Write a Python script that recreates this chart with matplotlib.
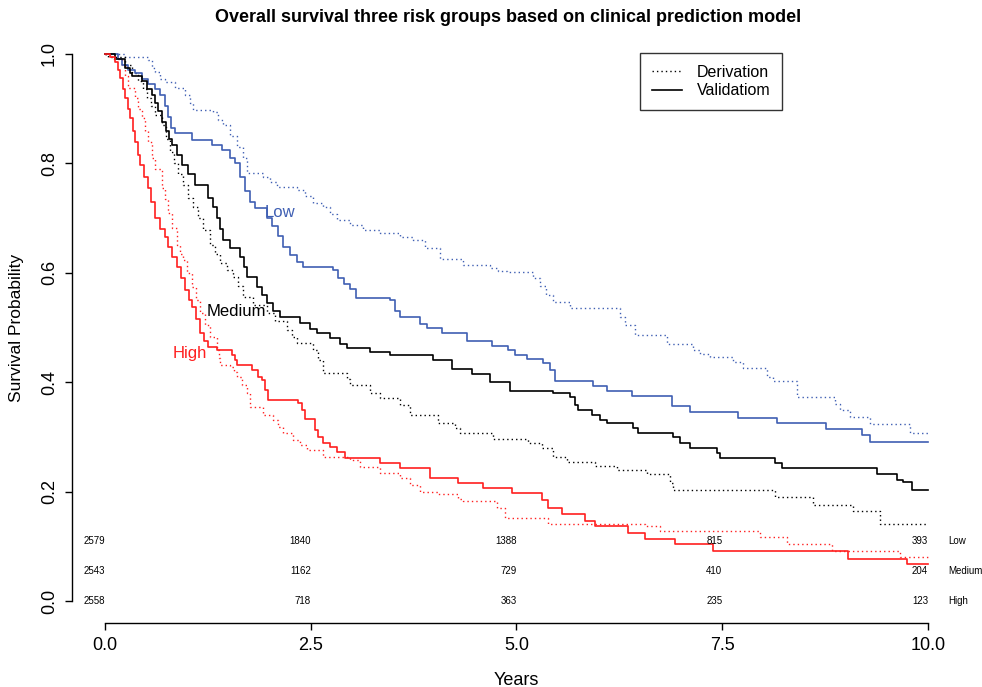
import matplotlib
matplotlib.use("Agg")
import matplotlib.pyplot as plt
from matplotlib.lines import Line2D

plt.rcParams["font.family"] = ["Liberation Sans", "DejaVu Sans"]

# Kaplan-Meier curves: (step time in years, survival after step)
low_der_t = [0.24, 0.52, 0.57, 0.61, 0.67, 0.73, 0.85, 0.97, 1.03, 1.07, 1.31, 1.37, 1.43, 1.52,
             1.60, 1.68, 1.73, 1.92, 2.00, 2.09, 2.33, 2.43, 2.53, 2.65, 2.73, 2.82, 2.98, 3.13,
             3.34, 3.58, 3.74, 3.89, 4.07, 4.35, 4.68, 4.78, 4.89, 5.20, 5.29, 5.36, 5.44, 5.65,
             6.26, 6.32, 6.44, 6.83, 7.14, 7.23, 7.35, 7.63, 7.75, 8.04, 8.12, 8.41, 8.87, 8.93,
             9.05, 9.30, 9.78]
low_der_s = [0.995, 0.989, 0.975, 0.967, 0.955, 0.949, 0.938, 0.925, 0.910, 0.898, 0.894, 0.880,
             0.870, 0.850, 0.830, 0.810, 0.782, 0.775, 0.766, 0.757, 0.751, 0.740, 0.728, 0.720,
             0.708, 0.697, 0.688, 0.678, 0.673, 0.666, 0.660, 0.645, 0.625, 0.614, 0.609, 0.604,
             0.601, 0.590, 0.575, 0.560, 0.547, 0.536, 0.520, 0.505, 0.486, 0.470, 0.459, 0.452,
             0.446, 0.437, 0.426, 0.410, 0.402, 0.373, 0.360, 0.349, 0.336, 0.324, 0.307]

low_val_t = [0.16, 0.21, 0.28, 0.36, 0.45, 0.52, 0.61, 0.67, 0.73, 0.77, 0.80, 0.85, 1.06, 1.30,
             1.42, 1.52, 1.58, 1.64, 1.70, 1.76, 1.82, 1.97, 2.03, 2.10, 2.16, 2.25, 2.33, 2.41,
             2.77, 2.83, 2.90, 2.98, 3.05, 3.46, 3.52, 3.58, 3.83, 3.91, 4.09, 4.40, 4.70, 4.90,
             4.98, 5.13, 5.32, 5.41, 5.47, 5.93, 6.10, 6.40, 6.89, 7.11, 7.69, 8.17, 8.76, 9.20,
             9.30]
low_val_s = [0.990, 0.980, 0.970, 0.965, 0.955, 0.945, 0.935, 0.925, 0.905, 0.885, 0.865, 0.855,
             0.843, 0.834, 0.825, 0.810, 0.800, 0.775, 0.750, 0.730, 0.718, 0.700, 0.685, 0.668,
             0.647, 0.633, 0.620, 0.610, 0.605, 0.590, 0.580, 0.570, 0.554, 0.550, 0.530, 0.519,
             0.507, 0.499, 0.490, 0.475, 0.466, 0.459, 0.450, 0.442, 0.435, 0.422, 0.403, 0.393,
             0.384, 0.375, 0.356, 0.345, 0.335, 0.325, 0.314, 0.303, 0.291]

med_der_t = [0.04, 0.24, 0.33, 0.40, 0.46, 0.51, 0.56, 0.61, 0.69, 0.74, 0.79, 0.84, 0.89, 0.95,
             1.01, 1.07, 1.13, 1.19, 1.28, 1.34, 1.40, 1.48, 1.56, 1.62, 1.68, 1.80, 1.97, 2.07,
             2.21, 2.27, 2.33, 2.53, 2.59, 2.65, 2.94, 2.98, 3.22, 3.34, 3.58, 3.71, 4.05, 4.25,
             4.31, 4.71, 5.14, 5.31, 5.44, 5.61, 5.95, 6.22, 6.59, 6.87, 6.90, 8.14, 8.60, 9.09,
             9.42]
med_der_s = [0.995, 0.980, 0.965, 0.950, 0.935, 0.920, 0.905, 0.888, 0.870, 0.845, 0.820, 0.800,
             0.780, 0.760, 0.737, 0.720, 0.700, 0.678, 0.650, 0.635, 0.618, 0.605, 0.592, 0.575,
             0.556, 0.541, 0.527, 0.512, 0.495, 0.483, 0.472, 0.459, 0.440, 0.417, 0.405, 0.395,
             0.381, 0.371, 0.358, 0.340, 0.325, 0.316, 0.307, 0.296, 0.289, 0.280, 0.263, 0.254,
             0.247, 0.239, 0.232, 0.215, 0.203, 0.190, 0.175, 0.165, 0.141]

med_val_t = [0.12, 0.24, 0.30, 0.33, 0.45, 0.51, 0.57, 0.61, 0.64, 0.69, 0.74, 0.78, 0.81, 0.88,
             0.94, 1.01, 1.09, 1.25, 1.31, 1.36, 1.40, 1.43, 1.52, 1.64, 1.69, 1.73, 1.85, 1.91,
             1.97, 2.04, 2.13, 2.37, 2.49, 2.58, 2.73, 2.86, 2.94, 3.22, 3.46, 3.99, 4.22, 4.46,
             4.68, 4.92, 5.44, 5.65, 5.71, 5.75, 5.92, 6.01, 6.10, 6.42, 6.48, 6.90, 6.99, 7.11,
             7.44, 7.47, 8.14, 8.23, 9.38, 9.62, 9.70, 9.81]
med_val_s = [0.990, 0.975, 0.965, 0.960, 0.950, 0.935, 0.925, 0.910, 0.895, 0.876, 0.860, 0.845,
             0.834, 0.815, 0.797, 0.780, 0.760, 0.737, 0.720, 0.700, 0.680, 0.660, 0.645, 0.629,
             0.610, 0.592, 0.574, 0.560, 0.545, 0.530, 0.519, 0.508, 0.497, 0.490, 0.480, 0.470,
             0.463, 0.455, 0.450, 0.440, 0.424, 0.415, 0.400, 0.384, 0.380, 0.373, 0.358, 0.349,
             0.340, 0.331, 0.325, 0.316, 0.307, 0.300, 0.289, 0.280, 0.270, 0.261, 0.252, 0.243,
             0.232, 0.221, 0.218, 0.203]

high_der_t = [0.09, 0.21, 0.24, 0.28, 0.36, 0.40, 0.45, 0.49, 0.52, 0.57, 0.61, 0.69, 0.73, 0.77,
              0.81, 0.88, 0.91, 0.95, 1.00, 1.06, 1.11, 1.15, 1.22, 1.28, 1.36, 1.39, 1.40, 1.52,
              1.57, 1.60, 1.66, 1.73, 1.76, 1.92, 2.04, 2.10, 2.16, 2.28, 2.37, 2.45, 2.65, 2.98,
              3.10, 3.34, 3.58, 3.71, 3.83, 4.05, 4.29, 4.35, 4.76, 4.86, 5.38, 6.56, 6.74, 7.96,
              8.29, 8.83, 9.66]
high_der_s = [0.990, 0.980, 0.960, 0.938, 0.920, 0.900, 0.883, 0.860, 0.839, 0.810, 0.790, 0.755,
              0.735, 0.710, 0.682, 0.650, 0.635, 0.623, 0.600, 0.574, 0.550, 0.527, 0.505, 0.483,
              0.459, 0.445, 0.431, 0.428, 0.418, 0.410, 0.395, 0.380, 0.355, 0.340, 0.331, 0.318,
              0.307, 0.294, 0.285, 0.276, 0.263, 0.258, 0.245, 0.235, 0.225, 0.212, 0.199, 0.196,
              0.187, 0.183, 0.170, 0.152, 0.141, 0.137, 0.128, 0.117, 0.104, 0.092, 0.080]

high_val_t = [0.06, 0.12, 0.16, 0.18, 0.22, 0.24, 0.28, 0.30, 0.34, 0.36, 0.40, 0.43, 0.47, 0.52,
              0.56, 0.61, 0.67, 0.73, 0.77, 0.81, 0.88, 0.92, 0.97, 1.02, 1.06, 1.11, 1.15, 1.20,
              1.25, 1.36, 1.54, 1.58, 1.60, 1.79, 1.86, 1.91, 1.94, 1.98, 2.35, 2.39, 2.43, 2.55,
              2.59, 2.65, 2.73, 2.82, 2.92, 3.34, 3.58, 3.95, 4.29, 4.59, 4.95, 5.31, 5.38, 5.55,
              5.83, 5.95, 6.35, 6.56, 6.93, 7.39, 9.03, 9.74]
high_val_s = [0.995, 0.985, 0.970, 0.956, 0.935, 0.920, 0.900, 0.883, 0.860, 0.839, 0.815, 0.797,
              0.775, 0.755, 0.730, 0.700, 0.680, 0.665, 0.647, 0.628, 0.610, 0.590, 0.568, 0.550,
              0.537, 0.515, 0.490, 0.475, 0.464, 0.459, 0.450, 0.440, 0.431, 0.422, 0.410, 0.404,
              0.385, 0.367, 0.362, 0.349, 0.333, 0.313, 0.300, 0.289, 0.282, 0.272, 0.261, 0.252,
              0.243, 0.225, 0.216, 0.207, 0.197, 0.185, 0.170, 0.159, 0.146, 0.137, 0.124, 0.113,
              0.104, 0.092, 0.077, 0.068]

risk_times = [0, 2.5, 5, 7.5, 10]
risk_groups = ["Low", "Medium", "High"]
risk_counts = {
    "Low": [2579, 1840, 1388, 815, 393],
    "Medium": [2543, 1162, 729, 410, 204],
    "High": [2558, 718, 363, 235, 123],
}
risk_rows_y = [0.11, 0.055, 0.0]

BLUE = "#3f5fb3"
RED = "#ff1f1f"
BLACK = "black"
t_max = 10.0


def km_xy(times, surv):
    xs = [0.0] + list(times) + [t_max]
    ys = [1.0] + list(surv) + [surv[-1]]
    return xs, ys


fig = plt.figure(figsize=(9.82, 6.87), dpi=100)
ax = fig.add_axes([72 / 982, 64 / 687, (961 - 72) / 982, (655 - 64) / 687])

curves = [
    (low_der_t, low_der_s, BLUE, ":"),
    (med_der_t, med_der_s, BLACK, ":"),
    (high_der_t, high_der_s, RED, ":"),
    (low_val_t, low_val_s, BLUE, "-"),
    (med_val_t, med_val_s, BLACK, "-"),
    (high_val_t, high_val_s, RED, "-"),
]
for times, surv, color, ls in curves:
    xs, ys = km_xy(times, surv)
    if ls == ":":
        ax.step(xs, ys, where="post", color=color, lw=1.0, linestyle=(0, (1, 2.2)))
    else:
        ax.step(xs, ys, where="post", color=color, lw=1.2)

# group labels
ax.text(2.13, 0.711, "Low", color=BLUE, fontsize=12, ha="center", va="center")
ax.text(1.60, 0.530, "Medium", color=BLACK, fontsize=12, ha="center", va="center")
ax.text(1.03, 0.453, "High", color=RED, fontsize=12, ha="center", va="center")

# numbers at risk
for group, yy in zip(risk_groups, risk_rows_y):
    for t, n in zip(risk_times, risk_counts[group]):
        ax.text(t, yy, str(n), fontsize=7, ha="right", va="center")
    ax.text(10.24, yy, group, fontsize=7, ha="left", va="center")

ax.set_xlim(-0.4, 10.4)
ax.set_ylim(-0.04, 1.04)
for side in ["top", "right"]:
    ax.spines[side].set_visible(False)
ax.spines["left"].set_bounds(0, 1)
ax.spines["bottom"].set_bounds(0, 10)
ax.spines["left"].set_linewidth(1.0)
ax.spines["bottom"].set_linewidth(1.0)
ax.set_xticks([0, 2.5, 5, 7.5, 10])
ax.set_xticklabels(["0.0", "2.5", "5.0", "7.5", "10.0"])
ax.set_yticks([0, 0.2, 0.4, 0.6, 0.8, 1.0])
ax.set_yticklabels(["0.0", "0.2", "0.4", "0.6", "0.8", "1.0"], rotation=90, va="center")
ax.tick_params(axis="both", length=5, width=1.0, labelsize=13, pad=5)
ax.set_xlabel("Years", fontsize=13, labelpad=13)
ax.set_ylabel("Survival Probability", fontsize=12.5, labelpad=12)

fig.text(508 / 982, 1 - 18 / 687, "Overall survival three risk groups based on clinical prediction model",
         fontsize=13, fontweight="bold", ha="center", va="center")

handles = [
    Line2D([], [], color="black", lw=1.0, linestyle=(0, (1, 2.2))),
    Line2D([], [], color="black", lw=1.2),
]
leg = ax.legend(handles, ["Derivation", "Validatiom"], loc="upper left",
                bbox_to_anchor=((640 - 72) / (961 - 72), (687 - 53 - 64) / (655 - 64)),
                frameon=True, fancybox=False, edgecolor="black", fontsize=11.5,
                handlelength=1.9, borderpad=0.75, labelspacing=0.2, handletextpad=0.9,
                borderaxespad=0)
leg.get_frame().set_linewidth(1.0)

fig.savefig("out.png", dpi=100)
